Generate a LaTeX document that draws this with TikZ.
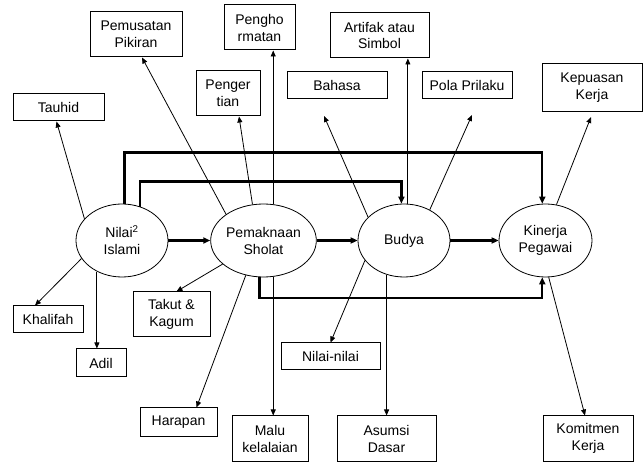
\documentclass[tikz,border=0pt]{standalone}
\usepackage{fontspec}
\setmainfont{Liberation Sans}
\usetikzlibrary{shapes.geometric,arrows.meta}
\tikzset{
  box/.style={draw,line width=1pt,inner sep=0pt,align=center},
  oval/.style={draw,ellipse,line width=0.8pt,minimum width=92pt,minimum height=73pt,inner sep=0pt,align=center},
  thin arrow/.style={line width=0.8pt,-{Triangle[length=6pt,width=5pt]}},
  main arrow/.style={line width=2.4pt,-{Triangle[length=7pt,width=6pt]}}
}
\begin{document}
\begin{tikzpicture}[x=1pt,y=-1pt,font=\fontsize{14}{17}\selectfont]
  \useasboundingbox (0,0) rectangle (643,462);
  % variabel utama
  \node[oval] (nilai) at (122,240.5) {Nilai\textsuperscript{2}\\Islami};
  \node[oval,minimum width=93pt] (pemaknaan) at (263.5,240.5) {Pemaknaan\\Sholat};
  \node[oval] (budya) at (404,240.5) {Budya};
  \node[oval,minimum width=93pt] (kinerja) at (545.5,240.5) {Kinerja\\Pegawai};
  % indikator atas
  \node[box,minimum width=91pt,minimum height=27pt] (tauhid) at (58.5,107.5) {Tauhid};
  \node[box,minimum width=92pt,minimum height=45pt] (pemusatan) at (136,34.5) {Pemusatan\\Pikiran};
  \node[box,minimum width=64pt,minimum height=45pt] (pengertian) at (228,93.5) {Penger\\tian};
  \node[box,minimum width=71pt,minimum height=45pt] (penghormatan) at (259.5,27.5) {Pengho\\rmatan};
  \node[box,minimum width=100pt,minimum height=27pt] (bahasa) at (337,85.5) {Bahasa};
  \node[box,minimum width=99pt,minimum height=45pt] (artifak) at (379.5,35.5) {Artifak atau\\Simbol};
  \node[box,minimum width=90pt,minimum height=27pt] (pola) at (467,85.5) {Pola Prilaku};
  \node[box,minimum width=100pt,minimum height=48pt] (kepuasan) at (592,88) {Kepuasan\\Kerja};
  % indikator bawah
  \node[box,minimum width=70pt,minimum height=27pt] (khalifah) at (48,319.5) {Khalifah};
  \node[box,minimum width=50pt,minimum height=28pt] (adil) at (101,363) {Adil};
  \node[box,minimum width=77pt,minimum height=45pt] (takut) at (171.5,314.5) {Takut \&\\Kagum};
  \node[box,minimum width=77pt,minimum height=28pt] (harapan) at (178.5,422) {Harapan};
  \node[box,minimum width=76pt,minimum height=45pt] (malu) at (270,438.5) {Malu\\kelalaian};
  \node[box,minimum width=99pt,minimum height=27pt] (nilainilai) at (330.5,356.5) {Nilai-nilai};
  \node[box,minimum width=99pt,minimum height=45pt] (asumsi) at (386.5,438.5) {Asumsi\\Dasar};
  \node[box,minimum width=90pt,minimum height=45pt] (komitmen) at (588,438.5) {Komitmen\\Kerja};
  \coordinate (bahasaend) at (324,116);
  \coordinate (polaend) at (472,115);
  \coordinate (kepuasanend) at (591,117);
  % hubungan antar variabel
  \draw[main arrow] (nilai.east) -- (pemaknaan.west);
  \draw[main arrow] (pemaknaan.east) -- (budya.west);
  \draw[main arrow] (budya.east) -- (kinerja.west);
  \draw[main arrow] (nilai.86) -- ++(0,-51) -| (kinerja.95);
  \draw[main arrow] (nilai.62) -- ++(0,-25) -| (budya.94);
  \draw[main arrow] (pemaknaan.264) -- ++(0,21) -| (kinerja.265);
  % Nilai Islami
  \draw[thin arrow] (nilai.150) -- ([xshift=-2pt]tauhid.south);
  \draw[thin arrow] (nilai.204) -- ([xshift=-13pt]khalifah.north);
  \draw[thin arrow] (nilai.231) -- (nilai.231 |- adil.north);
  % Pemaknaan Sholat
  \draw[thin arrow] (pemaknaan.145) -- ([xshift=6pt]pemusatan.south);
  \draw[thin arrow] (pemaknaan.107) -- ([xshift=11pt]pengertian.south);
  \draw[thin arrow] (pemaknaan.75) -- (pemaknaan.75 |- penghormatan.south);
  \draw[thin arrow] (pemaknaan.210) -- ([xshift=5pt]takut.north);
  \draw[thin arrow] (pemaknaan.243) -- ([xshift=18pt]harapan.north);
  \draw[thin arrow] (pemaknaan.-75) -- (pemaknaan.-75 |- malu.north);
  % Budya
  \draw[thin arrow] (budya.147) -- (bahasaend);
  \draw[thin arrow] (budya.84) -- (budya.84 |- artifak.south);
  \draw[thin arrow] (budya.50) -- (polaend);
  \draw[thin arrow] (budya.207) -- (nilainilai.north);
  \draw[thin arrow] (budya.243) -- (budya.243 |- asumsi.north);
  % Kinerja Pegawai
  \draw[thin arrow] (kinerja.73) -- (kepuasanend);
  \draw[thin arrow] (kinerja.-85) -- ([xshift=-3pt]komitmen.north);
\end{tikzpicture}
\end{document}
